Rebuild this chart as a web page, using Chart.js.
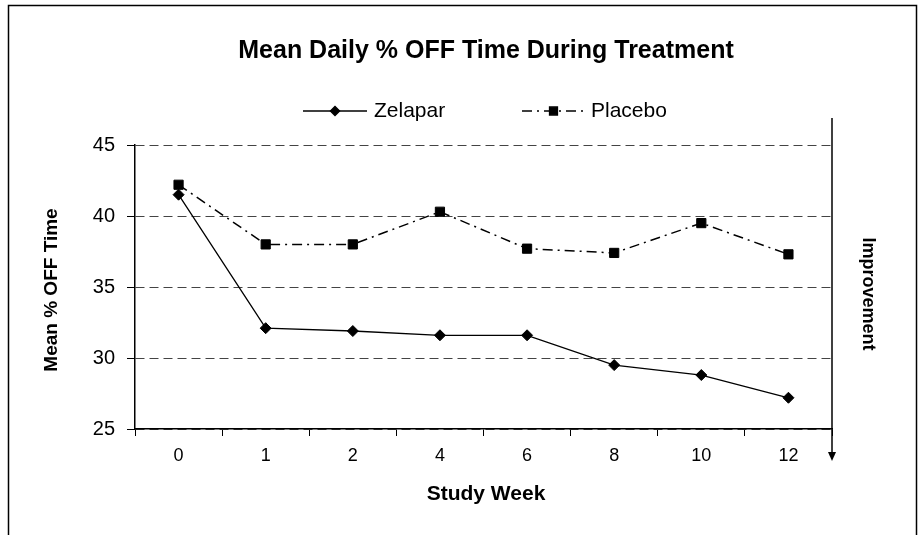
<!DOCTYPE html>
<html><head><meta charset="utf-8">
<script src="https://cdn.jsdelivr.net/npm/chart.js@4/dist/chart.umd.min.js"></script>
<style>html,body{margin:0;padding:0;background:#fff;} #wrap{width:922px;height:535px;}</style>
</head><body><div id="wrap"><canvas id="c" width="922" height="535"></canvas></div>
<script>
const chartTitle = 'Mean Daily % OFF Time During Treatment';
const xAxisTitle = 'Study Week';
const yAxisTitle = 'Mean % OFF Time';
const sideLabel = 'Improvement';
const seriesNames = ['Zelapar', 'Placebo'];
const weeks = ['0', '1', '2', '4', '6', '8', '10', '12'];
const zelapar = [41.5, 32.1, 31.9, 31.6, 31.6, 29.5, 28.8, 27.2];
const placebo = [42.2, 38.0, 38.0, 40.3, 37.7, 37.4, 39.5, 37.3];
const yMin = 25, yMax = 45, yStep = 5;

const FONT = "'Liberation Sans', Arial, Helvetica, sans-serif";

const decor = {
  id: 'decor',
  afterDraw(chart) {
    const ctx = chart.ctx;
    const area = chart.chartArea;
    ctx.save();
    // outer frame
    ctx.strokeStyle = '#000';
    ctx.lineWidth = 1.5;
    ctx.strokeRect(8.5, 5.5, 908, 545);
    // title
    ctx.fillStyle = '#000';
    ctx.textAlign = 'center';
    ctx.textBaseline = 'middle';
    ctx.font = 'bold 25px ' + FONT;
    ctx.fillText(chartTitle, 486, 51);
    // x axis title
    ctx.font = 'bold 21px ' + FONT;
    ctx.fillText(xAxisTitle, 486, 494);
    // y axis title
    ctx.save();
    ctx.translate(52, 290);
    ctx.rotate(-Math.PI / 2);
    ctx.font = 'bold 19px ' + FONT;
    ctx.fillText(yAxisTitle, 0, 0);
    ctx.restore();
    // side arrow & label
    ctx.beginPath();
    ctx.lineWidth = 1.5;
    ctx.moveTo(area.right, 118);
    ctx.lineTo(area.right, 454);
    ctx.stroke();
    ctx.beginPath();
    ctx.moveTo(area.right - 4, 452);
    ctx.lineTo(area.right + 4, 452);
    ctx.lineTo(area.right, 461);
    ctx.closePath();
    ctx.fill();
    ctx.save();
    ctx.translate(868, 294);
    ctx.rotate(Math.PI / 2);
    ctx.font = 'bold 18px ' + FONT;
    ctx.fillText(sideLabel, 0, 0);
    ctx.restore();
    // legend
    const items = [
      {ds: chart.data.datasets[0], x0: 303, x1: 367, tx: 374},
      {ds: chart.data.datasets[1], x0: 522, x1: 585, tx: 591}
    ];
    const ly = 111;
    items.forEach(it => {
      const ds = it.ds;
      ctx.save();
      ctx.strokeStyle = ds.borderColor;
      ctx.lineWidth = ds.borderWidth;
      ctx.setLineDash(ds.borderDash || []);
      ctx.beginPath();
      ctx.moveTo(it.x0, ly);
      ctx.lineTo(it.x1, ly);
      ctx.stroke();
      ctx.restore();
      ctx.fillStyle = '#000';
      ctx.strokeStyle = '#000';
      Chart.helpers.drawPoint(ctx, {pointStyle: ds.pointStyle, radius: ds.pointRadius - 1, borderWidth: 1, rotation: 0}, (it.x0 + it.x1) / 2, ly);
      ctx.textAlign = 'left';
      ctx.font = '21px ' + FONT;
      ctx.fillText(ds.label, it.tx, ly);
    });
    ctx.restore();
  }
};

new Chart(document.getElementById('c'), {
  type: 'line',
  data: {
    labels: weeks,
    datasets: [
      {
        label: seriesNames[0], data: zelapar,
        borderColor: '#000', backgroundColor: '#000', borderWidth: 1.3,
        pointStyle: 'rectRot', pointRadius: 5.5, pointBorderWidth: 1, tension: 0
      },
      {
        label: seriesNames[1], data: placebo,
        borderColor: '#000', backgroundColor: '#000', borderWidth: 1.5, borderDash: [10, 5, 2, 5],
        pointStyle: 'rect', pointRadius: 6.5, pointBorderWidth: 1, tension: 0
      }
    ]
  },
  options: {
    responsive: false,
    animation: false,
    devicePixelRatio: 1,
    layout: {padding: {top: 145, right: 90, left: 0, bottom: 0}},
    plugins: {legend: {display: false}, title: {display: false}, tooltip: {enabled: false}},
    scales: {
      x: {
        type: 'category', offset: true,
        grid: {offset: true, drawOnChartArea: false, drawTicks: true, tickLength: 7, color: '#000', lineWidth: 1},
        border: {color: '#000', width: 1.5},
        ticks: {color: '#000', font: {family: FONT, size: 18}, padding: 9, maxRotation: 0},
        afterFit(s) { s.height = 106; }
      },
      y: {
        min: yMin, max: yMax,
        grid: {color: '#444', lineWidth: 1, tickLength: 8, tickColor: '#000', tickBorderDash: []},
        border: {color: '#000', width: 1.5, dash: [9, 5]},
        ticks: {stepSize: yStep, color: '#000', font: {family: FONT, size: 20}, padding: 12},
        afterFit(s) { s.width = 135; }
      }
    }
  },
  plugins: [decor]
});
</script>
</body></html>
